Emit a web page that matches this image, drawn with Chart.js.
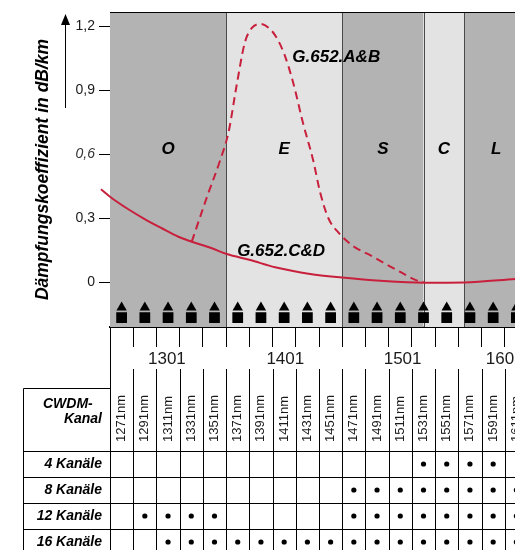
<!DOCTYPE html>
<html>
<head>
<meta charset="utf-8">
<script src="https://cdn.jsdelivr.net/npm/chart.js@4.4.1/dist/chart.umd.min.js"></script>
<style>
  html, body { margin: 0; padding: 0; background: #fff; overflow: hidden; width: 515px; height: 550px; }
  canvas { display: block; }
</style>
</head>
<body>
<canvas id="chart" width="540" height="388"></canvas>
<canvas id="table" width="540" height="167"></canvas>
<script>
// CWDM channels (nm) and band limits
var channels = [1271, 1291, 1311, 1331, 1351, 1371, 1391, 1411, 1431, 1451, 1471, 1491, 1511, 1531, 1551, 1571, 1591, 1611];
var bandNames = ["O", "E", "S", "C", "L"];
var bandStart = [1261, 1361, 1461, 1531, 1566];
var bandEnd = [1361, 1461, 1531, 1566, 1621];
var axisLabels = [1301, 1401, 1501, 1601];
var yTicks = [0, 0.3, 0.6, 0.9, 1.2];

// attenuation curves
var abNm = [1331.4, 1344.6, 1355.8, 1363, 1370, 1377, 1383, 1391, 1398, 1404, 1411, 1419, 1427, 1436, 1442, 1449, 1458, 1470, 1487, 1500, 1511, 1524, 1531];
var abVal = [0.189, 0.40, 0.57, 0.70, 0.92, 1.12, 1.19, 1.21, 1.19, 1.15, 1.07, 0.93, 0.75, 0.57, 0.42, 0.30, 0.23, 0.17, 0.12, 0.08, 0.047, 0.01, 0.0];
var cdNm = [1253.2, 1261, 1276.8, 1291.2, 1305.6, 1319.9, 1331.4, 1348.7, 1361.6, 1381.7, 1403.2, 1433.4, 1461, 1494, 1531, 1566, 1610];
var cdVal = [0.435, 0.40, 0.341, 0.294, 0.252, 0.212, 0.189, 0.158, 0.131, 0.103, 0.069, 0.0375, 0.021, 0.006, -0.003, -0.002, 0.014];

// table rows
var rows = ["4 Kanäle", "8 Kanäle", "12 Kanäle", "16 Kanäle"];
var ch4 = [1531, 1551, 1571, 1591];
var ch8 = [1471, 1491, 1511, 1531, 1551, 1571, 1591, 1611];
var ch12 = [1291, 1311, 1331, 1351, 1471, 1491, 1511, 1531, 1551, 1571, 1591, 1611];
var ch16 = [1311, 1331, 1351, 1371, 1391, 1411, 1431, 1451, 1471, 1491, 1511, 1531, 1551, 1571, 1591, 1611];

var FONT = "'Liberation Sans', Arial, Helvetica, sans-serif";
var RED = "#c8203c";
Chart.defaults.font.family = FONT;
Chart.defaults.color = "#1a1a1a";

var edges = channels.map(function (c) { return c - 10; }).concat([channels[channels.length - 1] + 10]);
// where the original puts its axis numbers (nm shift from the labelled value)
var labelShift = [9, 11, 12, 0];

function pts(xs, ys) {
  return xs.map(function (x, i) { return { x: x, y: ys[i] }; });
}

var bandsPlugin = {
  id: "bands",
  beforeDatasetsDraw: function (chart) {
    var ctx = chart.ctx, a = chart.chartArea, x = chart.scales.x, y = chart.scales.y;
    ctx.save();
    for (var i = 0; i < bandNames.length; i++) {
      var x0 = x.getPixelForValue(bandStart[i]);
      var x1 = x.getPixelForValue(bandEnd[i]);
      ctx.fillStyle = i % 2 === 0 ? "#b3b3b3" : "#e3e3e3";
      ctx.fillRect(x0, a.top, x1 - x0, a.bottom - a.top);
    }
    ctx.strokeStyle = "#4a4a4a";
    ctx.lineWidth = 1;
    for (var j = 1; j < bandStart.length; j++) {
      var px = Math.round(x.getPixelForValue(bandStart[j])) + 0.5;
      ctx.beginPath();
      ctx.moveTo(px, a.top);
      ctx.lineTo(px, a.bottom);
      ctx.stroke();
    }
    ctx.strokeStyle = "#000";
    ctx.beginPath();
    ctx.moveTo(a.left, a.top + 0.5);
    ctx.lineTo(a.right, a.top + 0.5);
    ctx.stroke();
    // band letters
    ctx.fillStyle = "#000";
    ctx.font = "italic bold 17px " + FONT;
    ctx.textAlign = "center";
    ctx.textBaseline = "middle";
    for (var k = 0; k < bandNames.length; k++) {
      ctx.fillText(bandNames[k], x.getPixelForValue((bandStart[k] + bandEnd[k]) / 2), y.getPixelForValue(0.62));
    }
    ctx.restore();
  },
  afterDraw: function (chart) {
    var ctx = chart.ctx, a = chart.chartArea, x = chart.scales.x, y = chart.scales.y;
    ctx.save();
    ctx.fillStyle = "#000";
    ctx.font = "italic bold 17px " + FONT;
    ctx.textAlign = "left";
    ctx.textBaseline = "middle";
    ctx.fillText("G.652.A&B", x.getPixelForValue(1418), y.getPixelForValue(1.055));
    ctx.fillText("G.652.C&D", x.getPixelForValue(1370.5), y.getPixelForValue(0.145));
    // lower tick row leading into the table
    ctx.strokeStyle = "#000";
    ctx.lineWidth = 1;
    edges.forEach(function (v) {
      var px = Math.round(x.getPixelForValue(v)) + 0.5;
      ctx.beginPath();
      ctx.moveTo(px, chart.height - 19);
      ctx.lineTo(px, chart.height);
      ctx.stroke();
    });
    ctx.beginPath();
    ctx.moveTo(a.left + 0.5, a.bottom);
    ctx.lineTo(a.left + 0.5, chart.height);
    ctx.stroke();
    // arrow next to the axis title
    ctx.beginPath();
    ctx.moveTo(65.5, 108);
    ctx.lineTo(65.5, 22);
    ctx.stroke();
    ctx.beginPath();
    ctx.moveTo(65.5, 14);
    ctx.lineTo(61, 25);
    ctx.lineTo(70, 25);
    ctx.closePath();
    ctx.fill();
    ctx.restore();
  }
};

new Chart(document.getElementById("chart"), {
  type: "scatter",
  data: {
    datasets: [
      {
        label: "G.652.A&B",
        data: pts(abNm, abVal),
        showLine: true,
        borderColor: RED,
        borderWidth: 2,
        borderDash: [8, 5],
        pointRadius: 0,
        cubicInterpolationMode: "monotone",
        clip: false
      },
      {
        label: "G.652.C&D",
        data: pts(cdNm, cdVal),
        showLine: true,
        borderColor: RED,
        borderWidth: 2,
        pointRadius: 0,
        cubicInterpolationMode: "monotone",
        clip: false
      },
      {
        label: "tri",
        data: channels.map(function (c) { return { x: c, y: -0.12 }; }),
        pointStyle: "triangle",
        pointRadius: 6,
        backgroundColor: "#000",
        borderWidth: 0
      },
      {
        label: "sq",
        data: channels.map(function (c) { return { x: c, y: -0.167 }; }),
        pointStyle: "rect",
        pointRadius: 7.6,
        backgroundColor: "#000",
        borderWidth: 0
      }
    ]
  },
  options: {
    responsive: false,
    animation: false,
    events: [],
    layout: { autoPadding: false, padding: { top: 12, right: 12, left: 0, bottom: 0 } },
    plugins: { legend: { display: false }, tooltip: { enabled: false } },
    scales: {
      x: {
        type: "linear",
        min: 1261,
        max: 1621,
        afterBuildTicks: function (s) {
          var t = edges.map(function (v) { return { value: v }; });
          axisLabels.forEach(function (v, i) { t.push({ value: v + labelShift[i], text: String(v) }); });
          s.ticks = t;
        },
        afterFit: function (s) { s.height = 61; s.paddingLeft = 0; s.paddingRight = 0; },
        ticks: {
          autoSkip: false,
          maxRotation: 0,
          padding: 2,
          color: "#1a1a1a",
          font: { size: 17 },
          callback: function (v, i, ticks) { return ticks[i].text || ""; }
        },
        grid: {
          drawOnChartArea: false,
          tickLength: 20,
          lineWidth: 1,
          color: function (c) { return c.tick && c.tick.text ? "rgba(0,0,0,0)" : "#000"; }
        },
        border: { color: "#000", width: 2 }
      },
      y: {
        min: -0.211,
        max: 1.266,
        afterBuildTicks: function (s) { s.ticks = yTicks.map(function (v) { return { value: v }; }); },
        afterFit: function (s) { s.width = 110; s.paddingTop = 0; s.paddingBottom = 0; },
        ticks: {
          padding: 4,
          color: function (c) { return c.tick && c.tick.value === 0.6 ? "#333" : "#1a1a1a"; },
          font: function (c) {
            return c.tick && c.tick.value === 0.6 ? { size: 14, style: "italic" } : { size: 14 };
          },
          callback: function (v) { return v === 0 ? "0" : v.toFixed(1).replace(".", ","); }
        },
        grid: { drawOnChartArea: false, tickLength: 11, color: "#000" },
        border: { color: "#444" },
        title: {
          display: true,
          text: "Dämpfungskoeffizient in dB/km",
          color: "#000",
          font: { size: 17.5, weight: "bold", style: "italic" },
          padding: { top: 33, bottom: 0 }
        }
      }
    }
  },
  plugins: [bandsPlugin]
});

// ---- channel table ----
var tablePlugin = {
  id: "grid",
  beforeDatasetsDraw: function (chart) {
    var ctx = chart.ctx, a = chart.chartArea, x = chart.scales.x, y = chart.scales.y;
    var halfW = (x.getPixelForValue(1) - x.getPixelForValue(0)) / 2;
    var halfH = (y.getPixelForValue(1) - y.getPixelForValue(0)) / 2;
    var left = 23.5;
    ctx.save();
    ctx.strokeStyle = "#000";
    ctx.lineWidth = 1;
    ctx.beginPath();
    for (var i = 0; i <= channels.length; i++) {
      var px = Math.round(x.getPixelForValue(i) - halfW) + 0.5;
      ctx.moveTo(px, 0);
      ctx.lineTo(px, a.bottom);
    }
    ctx.moveTo(left, 0.5);
    ctx.lineTo(left, a.bottom);
    ctx.moveTo(left, 0.5);
    ctx.lineTo(a.left, 0.5);
    for (var j = 0; j <= rows.length; j++) {
      var py = Math.round(y.getPixelForValue(j) - halfH) + 0.5;
      ctx.moveTo(left, py);
      ctx.lineTo(a.right, py);
    }
    ctx.stroke();
    ctx.fillStyle = "#000";
    ctx.font = "italic bold 14px " + FONT;
    ctx.textBaseline = "middle";
    ctx.textAlign = "left";
    ctx.fillText("CWDM-", 43, 16);
    ctx.textAlign = "right";
    ctx.fillText("Kanal", 102, 31);
    ctx.restore();
  }
};

function cells(list, row) {
  return list.map(function (c) { return { x: c + "nm", y: row }; });
}

new Chart(document.getElementById("table"), {
  type: "scatter",
  data: {
    datasets: [{
      data: cells(ch4, rows[0]).concat(cells(ch8, rows[1]), cells(ch12, rows[2]), cells(ch16, rows[3])),
      pointRadius: 2.6,
      backgroundColor: "#000",
      borderWidth: 0
    }]
  },
  options: {
    responsive: false,
    animation: false,
    events: [],
    layout: { autoPadding: false, padding: { top: 0, right: 12, left: 0, bottom: 0 } },
    plugins: { legend: { display: false }, tooltip: { enabled: false } },
    scales: {
      x: {
        type: "category",
        labels: channels.map(function (c) { return c + "nm"; }),
        position: "top",
        offset: true,
        afterFit: function (s) { s.height = 63; s.paddingLeft = 0; s.paddingRight = 0; },
        ticks: { autoSkip: false, minRotation: 90, maxRotation: 90, padding: 9, labelOffset: 15.5, font: { size: 13 }, color: "#1a1a1a" },
        grid: { display: false, drawTicks: false },
        border: { display: false }
      },
      y: {
        type: "category",
        labels: rows,
        offset: true,
        afterFit: function (s) { s.width = 110; s.paddingTop = 0; s.paddingBottom = 0; },
        ticks: { padding: 8, font: { size: 14, weight: "bold", style: "italic" }, color: "#000" },
        grid: { display: false, drawTicks: false },
        border: { display: false }
      }
    }
  },
  plugins: [tablePlugin]
});
</script>
</body>
</html>
